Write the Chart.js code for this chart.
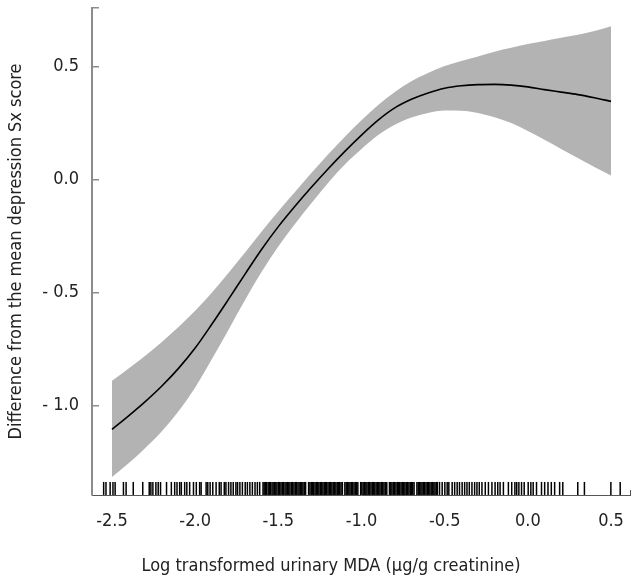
<!DOCTYPE html>
<html><head><meta charset="utf-8">
<script src="https://cdn.jsdelivr.net/npm/chart.js@4.4.1/dist/chart.umd.min.js"></script>
<style>html,body{margin:0;padding:0;background:#fff;}</style>
</head><body>
<canvas id="c" width="638" height="584" style="width:638px;height:584px;display:block"></canvas>
<script>
// ---- data ----
const xGrid = [-2.5,-2.4,-2.3,-2.2,-2.1,-2.0,-1.9,-1.8,-1.7,-1.6,-1.5,-1.4,-1.3,-1.2,-1.1,-1.0,-0.9,-0.8,-0.7,-0.6,-0.5,-0.4,-0.3,-0.2,-0.1,0.0,0.1,0.2,0.3,0.4,0.5];
const fitValues = [-1.105,-1.045,-0.982,-0.913,-0.835,-0.745,-0.64,-0.53,-0.418,-0.308,-0.208,-0.118,-0.033,0.048,0.125,0.197,0.263,0.317,0.355,0.383,0.404,0.415,0.42,0.421,0.418,0.41,0.398,0.387,0.376,0.362,0.346];
const upperValues = [-0.89,-0.836,-0.779,-0.718,-0.652,-0.58,-0.50,-0.413,-0.322,-0.229,-0.14,-0.055,0.03,0.112,0.19,0.262,0.33,0.388,0.435,0.471,0.502,0.525,0.545,0.566,0.583,0.600,0.613,0.627,0.641,0.657,0.678];
const lowerValues = [-1.315,-1.255,-1.187,-1.113,-1.025,-0.92,-0.795,-0.665,-0.533,-0.408,-0.296,-0.196,-0.103,-0.014,0.067,0.135,0.197,0.243,0.275,0.295,0.306,0.305,0.295,0.276,0.25,0.215,0.176,0.135,0.095,0.056,0.018];
const rugValues = [
 -2.550,-2.536,-2.511,-2.494,-2.481,-2.431,-2.415,-2.372,-2.315,-2.276,-2.266,-2.254,-2.236,-2.222,-2.208,-2.172,-2.143,-2.123,-2.109,-2.093,-2.083,-2.063,-2.050,-2.033,-2.010,-1.993,-1.973,-1.964,-1.934,-1.924,-1.910,-1.894,-1.874,-1.855,-1.844,-1.825,-1.815,-1.799,-1.785,-1.771,-1.755,-1.745,-1.731,-1.716,-1.699,-1.686,-1.671,-1.656,-1.640,-1.626,-1.612,
 -1.592,-1.585,-1.577,-1.570,-1.561,-1.553,-1.547,-1.538,-1.531,-1.522,-1.515,-1.508,-1.499,-1.492,-1.484,-1.476,-1.469,-1.460,-1.453,-1.445,-1.437,-1.430,-1.421,-1.414,-1.406,-1.398,-1.391,-1.382,-1.375,-1.367,-1.359,-1.352,-1.344,-1.336,-1.318,-1.310,-1.302,-1.295,-1.287,-1.279,-1.271,-1.263,-1.256,-1.248,-1.240,-1.232,-1.224,-1.217,-1.209,-1.201,-1.193,-1.185,-1.178,-1.170,-1.162,-1.154,-1.146,-1.139,-1.131,-1.123,-1.115,-1.100,-1.092,-1.084,-1.076,-1.069,-1.061,-1.053,-1.045,-1.037,-1.030,-1.022,-1.005,-0.998,-0.990,-0.982,-0.974,-0.967,-0.959,-0.951,-0.943,-0.935,-0.928,-0.920,-0.912,-0.904,-0.896,-0.889,-0.881,-0.873,-0.865,-0.857,-0.848,-0.832,-0.824,-0.817,-0.809,-0.801,-0.793,-0.785,-0.778,-0.770,-0.762,-0.754,-0.746,-0.739,-0.731,-0.723,-0.715,-0.707,-0.700,-0.692,-0.684,-0.667,-0.659,-0.651,-0.643,-0.636,-0.628,-0.620,-0.612,-0.604,-0.597,-0.589,-0.581,-0.573,-0.565,-0.558,-0.550,
 -0.544,-0.531,-0.515,-0.499,-0.485,-0.475,-0.455,-0.440,-0.425,-0.411,-0.395,-0.380,-0.366,-0.352,-0.336,-0.320,-0.306,-0.292,-0.276,-0.256,-0.237,-0.216,-0.197,-0.181,-0.167,-0.147,-0.117,-0.097,-0.078,-0.067,-0.054,-0.038,-0.022,0.002,0.018,0.032,0.052,0.082,0.101,0.121,0.141,0.161,0.191,0.210,0.300,0.340,0.499,0.555
];
const xTickValues = [-2.5,-2.0,-1.5,-1.0,-0.5,0.0,0.5];
const xTickLabels = ['-2.5','-2.0','-1.5','-1.0','-0.5','0.0','0.5'];
const yTickValues = [0.5,0.0,-0.5,-1.0];
const yTickLabels = ['0.5','0.0','- 0.5','- 1.0'];
const xTitle = 'Log transformed urinary MDA (μg/g creatinine)';
const yTitle = 'Difference from the mean depression Sx score';

// ---- styling / layout ----
const FONT = "'DejaVu Sans Condensed', 'Liberation Sans Narrow', 'Roboto', sans-serif";
const X_MIN = -2.62, X_MAX = 0.614, Y_MIN = -1.395, Y_MAX = 0.759;
const RUG_LEVEL = -1.366;

const pts = (ys) => xGrid.map((x, i) => ({x, y: ys[i]}));

const xTitlePlugin = {
  id: 'xTitleText',
  afterDraw(chart) {
    const ctx = chart.ctx;
    ctx.save();
    ctx.font = '18px ' + FONT;
    ctx.fillStyle = '#222';
    ctx.textAlign = 'center';
    ctx.textBaseline = 'alphabetic';
    ctx.fillText(xTitle, 331, 571);
    ctx.restore();
  }
};

new Chart(document.getElementById('c'), {
  type: 'line',
  data: {
    datasets: [
      { label: 'fit', data: pts(fitValues), borderColor: '#000', borderWidth: 1.6, pointRadius: 0, fill: false, cubicInterpolationMode: 'monotone' },
      { label: 'rug', data: rugValues.map(v => ({x: v, y: RUG_LEVEL})), showLine: false, pointStyle: 'line', pointRotation: 90, pointRadius: 6.5, pointBorderColor: '#000', pointBorderWidth: 1.5, borderColor: '#000', backgroundColor: '#000' },
      { label: 'upper', data: pts(upperValues), borderWidth: 0, borderColor: 'rgba(0,0,0,0)', pointRadius: 0, fill: '+1', backgroundColor: '#b3b3b3', cubicInterpolationMode: 'monotone' },
      { label: 'lower', data: pts(lowerValues), borderWidth: 0, borderColor: 'rgba(0,0,0,0)', pointRadius: 0, fill: false, cubicInterpolationMode: 'monotone' }
    ]
  },
  options: {
    responsive: false,
    animation: false,
    devicePixelRatio: 1,
    events: [],
    layout: { padding: { top: 4, right: 4, left: 0, bottom: 0 } },
    plugins: { legend: { display: false }, tooltip: { enabled: false }, title: { display: false } },
    scales: {
      x: {
        type: 'linear', position: 'bottom', min: X_MIN, max: X_MAX,
        border: { display: true, color: '#555', width: 1 },
        grid: { drawOnChartArea: false, drawTicks: true, tickLength: -5, lineWidth: 1,
                color: (ctx) => (ctx.tick && ctx.tick.value === X_MAX) ? '#555' : 'rgba(0,0,0,0)' },
        ticks: { padding: 21, color: '#222', font: { size: 18, family: FONT }, maxRotation: 0, autoSkip: false,
                 callback: (v) => { const i = xTickValues.indexOf(v); return i >= 0 ? xTickLabels[i] : ''; } },
        afterBuildTicks: (s) => { s.ticks = xTickValues.concat([X_MAX]).map(v => ({value: v})); },
        afterFit: (s) => { s.height = 89; s.paddingLeft = 0; s.paddingRight = 0; }
      },
      y: {
        type: 'linear', position: 'left', min: Y_MIN, max: Y_MAX,
        border: { display: true, color: '#8c8c8c', width: 2 },
        grid: { drawOnChartArea: false, drawTicks: true, tickLength: -7, lineWidth: 1.5, color: '#8c8c8c' },
        ticks: { padding: 20, color: '#222', font: { size: 18, family: FONT }, autoSkip: false,
                 callback: (v) => { const i = yTickValues.indexOf(v); return i >= 0 ? yTickLabels[i] : ''; } },
        afterBuildTicks: (s) => { s.ticks = yTickValues.concat([Y_MAX]).map(v => ({value: v})); },
        title: { display: true, text: yTitle, color: '#222', font: { size: 18, family: FONT }, padding: { top: 6, bottom: 0 } },
        afterFit: (s) => { s.width = 92; s.paddingTop = 0; s.paddingBottom = 0; }
      }
    }
  },
  plugins: [xTitlePlugin]
});
</script>
</body></html>
